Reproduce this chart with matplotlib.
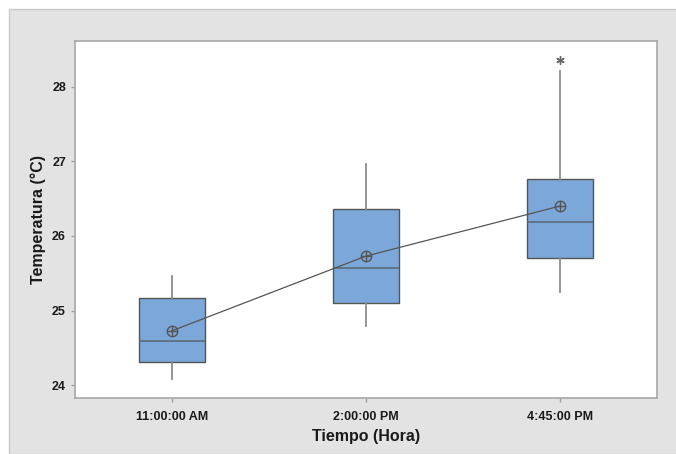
import matplotlib
matplotlib.use("Agg")
import matplotlib.pyplot as plt
from matplotlib.patches import Rectangle

plt.rcParams['font.family'] = ['Liberation Sans', 'DejaVu Sans']

# Temperature readings summarised per time of day
categories = ["11:00:00 AM", "2:00:00 PM", "4:45:00 PM"]
q1 = [24.31, 25.10, 25.71]
median = [24.59, 25.57, 26.19]
q3 = [25.17, 26.36, 26.76]
whisker_low = [24.09, 24.80, 25.25]
whisker_high = [25.46, 26.96, 28.21]
means = [24.73, 25.73, 26.40]
outliers = [[], [], [28.36]]
y_ticks = [24, 25, 26, 27, 28]

fig = plt.figure(figsize=(6.76, 4.54), dpi=100, facecolor='white')
backdrop = Rectangle((9 / 676, 0), 1, (454 - 9) / 454,
                     transform=fig.transFigure, facecolor='#E3E3E3',
                     edgecolor='#C8C8C8', linewidth=1, zorder=-10)
fig.add_artist(backdrop)

ax = fig.add_axes([75 / 676, (454 - 398) / 454, (657 - 75) / 676, (398 - 41) / 454])
ax.set_zorder(1)
ax.set_facecolor('white')

positions = list(range(1, len(categories) + 1))
stats = []
for i, name in enumerate(categories):
    stats.append(dict(label=name, q1=q1[i], med=median[i], q3=q3[i],
                      whislo=whisker_low[i], whishi=whisker_high[i],
                      mean=means[i], fliers=outliers[i]))

ax.bxp(stats, positions=positions, widths=0.336, patch_artist=True,
       showcaps=False, showfliers=True, showmeans=False,
       boxprops=dict(facecolor='#7BA7D9', edgecolor='#555555', linewidth=1.0),
       medianprops=dict(color='#5f6a78', linewidth=1.2),
       whiskerprops=dict(color='#8C8C8C', linewidth=1.3),
       flierprops=dict(marker=(6, 2, 0), markersize=6, markeredgecolor='#666666',
                       markeredgewidth=1.0, linestyle='none'))

# connect the means
ax.plot(positions, means, color='#555555', linewidth=0.9, zorder=4)
ax.plot(positions, means, linestyle='none', marker='o', markersize=7.5,
        markerfacecolor='none', markeredgecolor='#555555', markeredgewidth=1.0, zorder=5)
ax.plot(positions, means, linestyle='none', marker='+', markersize=7.5,
        markeredgecolor='#555555', markeredgewidth=1.0, zorder=5)

ax.set_xlim(0.5, 3.5)
ax.set_ylim(23.83, 28.61)
ax.set_yticks(y_ticks)
ax.set_xticks(positions)
ax.set_xticklabels(categories)

for side in ['left', 'bottom', 'top', 'right']:
    ax.spines[side].set_color('#A8A8A8')
    ax.spines[side].set_linewidth(1.2)

ax.tick_params(axis='both', colors='#A0A0A0', length=3, width=1,
               labelcolor='#1a1a1a', labelsize=9)
for lbl in ax.get_xticklabels() + ax.get_yticklabels():
    lbl.set_fontweight('bold')
ax.tick_params(axis='x', pad=6)

ax.set_xlabel('Tiempo (Hora)', fontsize=11.5, fontweight='bold', color='#1a1a1a', labelpad=5)
ax.set_ylabel('Temperatura (°C)', fontsize=11.5, fontweight='bold', color='#1a1a1a', labelpad=4)

fig.savefig('out.png', dpi=100, facecolor=fig.get_facecolor())
